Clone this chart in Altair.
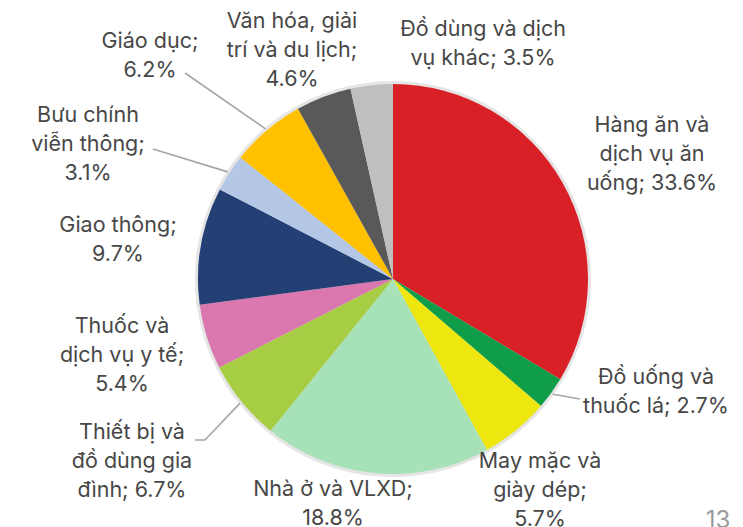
import altair as alt
import pandas as pd
import numpy as np

# ---- data ----
categories = ["Hàng ăn và dịch vụ ăn uống", "Đồ uống và thuốc lá", "May mặc và giày dép",
              "Nhà ở và VLXD", "Thiết bị và đồ dùng gia đình", "Thuốc và dịch vụ y tế",
              "Giao thông", "Bưu chính viễn thông", "Giáo dục",
              "Văn hóa, giải trí và du lịch", "Đồ dùng và dịch vụ khác"]
values = [33.6, 2.7, 5.7, 18.8, 6.7, 5.4, 9.7, 3.1, 6.2, 4.6, 3.5]
label_lines = [
    ["Hàng ăn và", "dịch vụ ăn", "uống; {v}%"],
    ["Đồ uống và", "thuốc lá; {v}%"],
    ["May mặc và", "giày dép;", "{v}%"],
    ["Nhà ở và VLXD;", "{v}%"],
    ["Thiết bị và", "đồ dùng gia", "đình; {v}%"],
    ["Thuốc và", "dịch vụ y tế;", "{v}%"],
    ["Giao thông;", "{v}%"],
    ["Bưu chính", "viễn thông;", "{v}%"],
    ["Giáo dục;", "{v}%"],
    ["Văn hóa, giải", "trí và du lịch;", "{v}%"],
    ["Đồ dùng và dịch", "vụ khác; {v}%"],
]
page_number = "13"

# ---- style / layout ----
colors = ["#D92027", "#0F9D4A", "#EDE60F", "#A6E1B7", "#A6CD44", "#DB77AF",
          "#233F74", "#B4C7E7", "#FFC000", "#595959", "#BFBFBF"]
W, H = 684, 480
R = 195
# offsets (from pie centre) of each label's first line
label_dx = [652 - 393, 656 - 393, 540 - 393, 333 - 393, 132 - 393, 122 - 393,
            118 - 393, 88 - 393, 150 - 393, 292 - 393, 483 - 393]
label_dy = [126 - 279, 378 - 279, 462 - 279, 490 - 279, 433 - 279, 327 - 279,
            226 - 279, 116 - 279, 42 - 279, 22 - 279, 30 - 279]
# leader line extra points (offsets from pie centre), keyed by slice index
leader_ends = {1: [(187, 120)], 4: [(-188, 161), (-198, 161)],
               7: [(-240, -130)], 8: [(-208, -206)]}

df = pd.DataFrame({
    "category": categories,
    "value": values,
    "idx": list(range(len(categories))),
})
df["label"] = ["\n".join(l.format(v=f"{v:.1f}") for l in lines)
               for lines, v in zip(label_lines, values)]
df["lx"] = label_dx
df["ly"] = label_dy

# slice mid-angles (0 = top, clockwise)
cum = np.cumsum([0] + values)
mid = [(cum[i] + cum[i + 1]) / 2 / 100 * 2 * np.pi for i in range(len(values))]

rows = []
for i, ends in leader_ends.items():
    r0 = R + 2
    pts = [(r0 * np.sin(mid[i]), -r0 * np.cos(mid[i]))] + ends
    for k, (x, y) in enumerate(pts):
        rows.append({"line": i, "seq": k, "x": x, "y": y})
leaders = pd.DataFrame(rows)

xs = alt.Scale(domain=[-W / 2, W / 2], range=[0, W])
ys = alt.Scale(domain=[-H / 2, H / 2], range=[0, H])

shadow = alt.Chart(df).mark_arc(radius=R + 3, color="#000000", opacity=0.10).encode(
    theta=alt.Theta("value:Q", stack=True),
    order=alt.Order("idx:Q"),
)

pie = alt.Chart(df).mark_arc(radius=R).encode(
    theta=alt.Theta("value:Q", stack=True),
    color=alt.Color("category:N", scale=alt.Scale(domain=categories, range=colors), legend=None),
    order=alt.Order("idx:Q"),
)

lines = alt.Chart(leaders).mark_line(color="#A6A6A6", strokeWidth=1.6).encode(
    x=alt.X("x:Q", scale=xs, axis=None),
    y=alt.Y("y:Q", scale=ys, axis=None),
    detail="line:N",
    order="seq:Q",
)

labels = alt.Chart(df).mark_text(
    lineBreak="\n", align="center", baseline="middle", fontSize=21.5,
    lineHeight=29, font="Inter", color="#474747",
).encode(
    x=alt.X("lx:Q", scale=xs, axis=None),
    y=alt.Y("ly:Q", scale=ys, axis=None),
    text="label:N",
)

pnum = alt.Chart(pd.DataFrame({"t": [page_number]})).mark_text(
    fontSize=24, font="Inter", color="#9A9A9A", align="center", baseline="middle",
).encode(x=alt.value(667), y=alt.value(482), text="t:N")

chart = alt.layer(shadow, pie, lines, labels, pnum).resolve_scale(
    theta="independent"
).properties(
    width=W, height=H,
    autosize=alt.AutoSizeParams(type="none"),
    padding={"left": 43, "top": 31, "right": 0, "bottom": 8},
).configure_view(stroke=None)

chart.save("out.html", embed_options={"renderer": "svg", "actions": False})
